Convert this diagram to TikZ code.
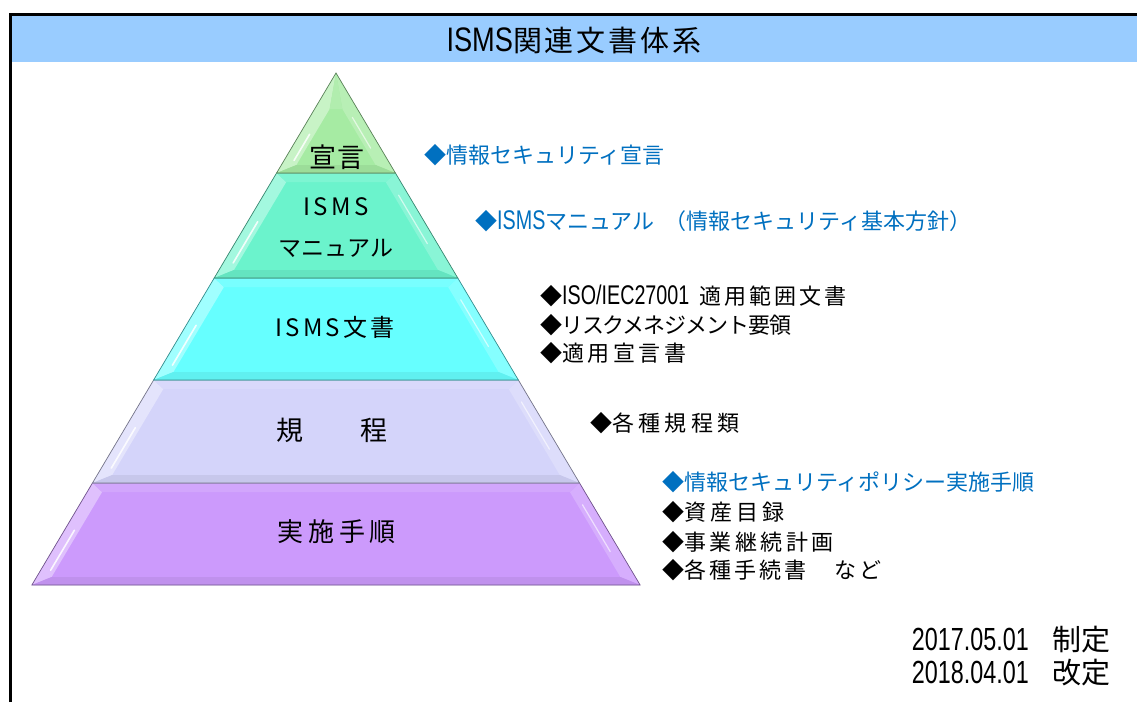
\documentclass[tikz,border=0pt]{standalone}
\usepackage{fontspec}
\setmainfont{Noto Sans CJK JP}
\newfontfamily\nar[FakeStretch=0.73]{Liberation Sans}
\newfontfamily\tnar[FakeStretch=0.8]{Liberation Sans}
\usetikzlibrary{calc}
\definecolor{hdr}{HTML}{99CCFF}
\definecolor{bluetxt}{HTML}{0070C0}
\definecolor{lA}{HTML}{A6EBA3}
\definecolor{lB}{HTML}{6BF3CC}
\definecolor{lC}{HTML}{66FFFF}
\definecolor{lD}{HTML}{D4D4FA}
\definecolor{lE}{HTML}{CC9AFC}
\newcommand\pyrlayer[3]{%
  \pgfmathsetmacro\hT{(#1-73)*0.594}%
  \pgfmathsetmacro\hB{(#2-73)*0.594}%
  \pgfmathsetmacro\iT{#1<74 ? 73+36 : #1+9}%
  \pgfmathsetmacro\iB{#2-8}%
  \pgfmathsetmacro\hiT{max(0,(\iT-73)*0.594-15)}%
  \pgfmathsetmacro\hiB{(\iB-73)*0.594-15}%
  \fill[#3] (336-\hB,#2) -- (336+\hB,#2) -- (336+\hT,#1) -- (336-\hT,#1) -- cycle;
  \fill[#3!62!white] (336-\hB,#2) -- (336-\hT,#1) -- (336-\hiT,\iT) -- (336-\hiB,\iB) -- cycle;
  \fill[#3!80!white] (336+\hB,#2) -- (336+\hT,#1) -- (336+\hiT,\iT) -- (336+\hiB,\iB) -- cycle;
  \fill[#3!88!white] (336-\hT,#1) -- (336+\hT,#1) -- (336+\hiT,\iT) -- (336-\hiT,\iT) -- cycle;
  \fill[#3!94!black] (336-\hB,#2) -- (336+\hB,#2) -- (336+\hiB,\iB) -- (336-\hiB,\iB) -- cycle;
  \draw[white, line width=1.6, opacity=0.85, line cap=round]
    ($(336-\hiB,\iB)!0.08!(336-\hiT,\iT)+(-5,0)$) -- ($(336-\hiB,\iB)!0.55!(336-\hiT,\iT)+(-5,0)$);
  \draw[white, line width=1.2, opacity=0.6, line cap=round]
    ($(336+\hiB,\iB)!0.3!(336+\hiT,\iT)+(5,0)$) -- ($(336+\hiB,\iB)!0.85!(336+\hiT,\iT)+(5,0)$);
  \draw[#3!55!black, line width=0.7] (336-\hB,#2) -- (336+\hB,#2) -- (336+\hT,#1) -- (336-\hT,#1) -- cycle;
}
\tikzset{
  lbl/.style={inner sep=0pt, anchor=center, text=black},
  item/.style={inner sep=0pt, anchor=west, text=black, font=\fontsize{22}{26}\selectfont},
  bitem/.style={item, text=bluetxt},
}
\begin{document}
\begin{tikzpicture}[x=1pt,y=-1pt]
\useasboundingbox (0,0) rectangle (1137,702);
\fill[white] (0,0) rectangle (1137,702);
% header and frame
\fill[hdr] (10,14) rectangle (1137,62);
\draw[line width=3pt] (10,702) -- (10,14) -- (1137,14);
\node[lbl, font=\fontsize{29}{30}\selectfont] (title) at (574,40)
  {{\tnar\fontsize{34}{34}\selectfont ISMS}\addfontfeature{LetterSpace=10}関連文書体系};
% pyramid
\pyrlayer{483}{585}{lE}
\pyrlayer{380}{483}{lD}
\pyrlayer{278}{380}{lC}
\pyrlayer{173}{278}{lB}
\pyrlayer{73}{173}{lA}
\node[lbl, font=\fontsize{27}{30}\selectfont\addfontfeature{LetterSpace=6}] (sengen) at (337,157) {宣言};
\node[lbl, font=\fontsize{24}{28}\selectfont\addfontfeature{LetterSpace=14}] (isms1) at (336,207) {ISMS};
\node[lbl, font=\fontsize{23}{28}\selectfont] (manual) at (336,248) {マニュアル};
\node[lbl, font=\fontsize{24}{28}\selectfont\addfontfeature{LetterSpace=14}] (bunsho) at (335,327) {ISMS文書};
\node[lbl, font=\fontsize{27}{30}\selectfont] (kitei) at (332,430) {規\hspace{58pt}程};
\node[lbl, font=\fontsize{26}{30}\selectfont\addfontfeature{LetterSpace=18}] (tejun) at (337,532) {実施手順};
% right texts
\node[bitem] (t1) at (424,155) {◆情報セキュリティ宣言};
\node[bitem] (t2) at (475,221) {◆{\nar\fontsize{27}{27}\selectfont ISMS}マニュアル\hspace{10pt}（情報セキュリティ基本方針）};
\node[item] (t3) at (540,296) {◆{\nar\fontsize{27}{27}\selectfont ISO/IEC27001}\hspace{10pt}\addfontfeature{LetterSpace=14}適用範囲文書};
\node[item, font=\fontsize{22}{26}\selectfont\addfontfeature{LetterSpace=-5}] (t4) at (540,325) {◆リスクメネジメント要領};
\node[item] (t5) at (540,353) {◆\addfontfeature{LetterSpace=16}適用宣言書};
\node[item] (t6) at (590,423) {◆\addfontfeature{LetterSpace=20}各種規程類};
\node[bitem] (t7) at (662,482) {◆情報セキュリティポリシー実施手順};
\node[item] (t8) at (662,512) {◆\addfontfeature{LetterSpace=18}資産目録};
\node[item] (t9) at (662,542) {◆\addfontfeature{LetterSpace=16}事業継続計画};
\node[item] (t10) at (662,570) {◆\addfontfeature{LetterSpace=14}各種手続書　など};
% dates
\node[inner sep=0pt, anchor=east, font=\fontsize{29}{30}\selectfont] (d1) at (1111,640)
  {{\nar\fontsize{32}{32}\selectfont 2017.05.01}\hspace{24pt}制定};
\node[inner sep=0pt, anchor=east, font=\fontsize{29}{30}\selectfont] (d2) at (1111,673)
  {{\nar\fontsize{32}{32}\selectfont 2018.04.01}\hspace{24pt}改定};
\end{tikzpicture}
\end{document}
